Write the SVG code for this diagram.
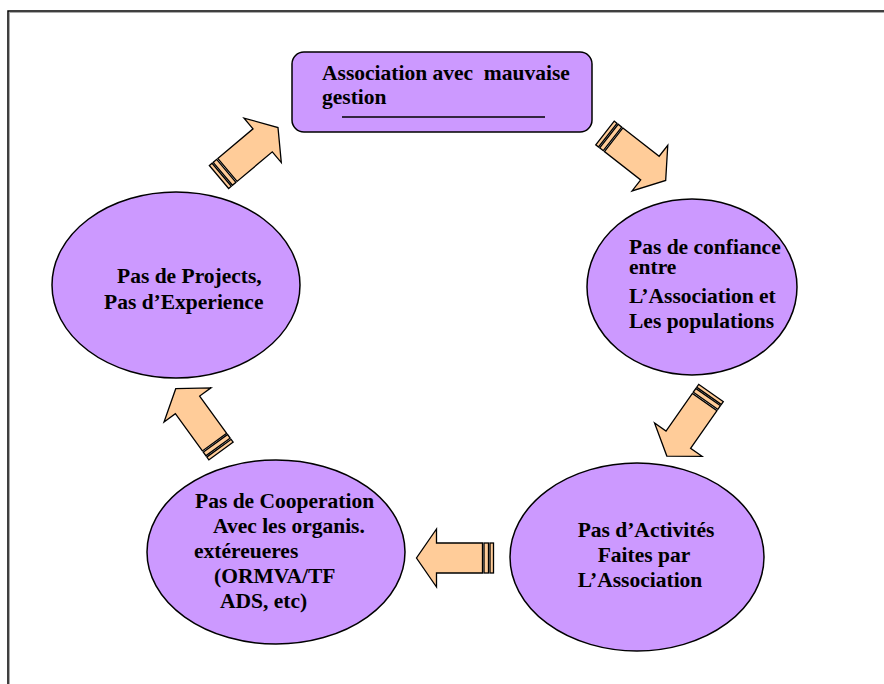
<svg xmlns="http://www.w3.org/2000/svg" width="884" height="684" viewBox="0 0 884 684">
<style>
.node{fill:#CC99FF;stroke:#000;stroke-width:1.5}
.t{font-family:"Liberation Serif","Times New Roman",serif;font-weight:bold;font-size:21.5px;fill:#000;white-space:pre}
.arr{fill:#FFCC99;stroke:#000;stroke-width:1.3;stroke-linejoin:miter}
</style>
<defs>
<g id="arrow">
<rect class="arr" x="0" y="-15" width="3.5" height="30"/>
<rect class="arr" x="5" y="-15" width="4.5" height="30"/>
<polygon class="arr" points="11,-15 57,-15 57,-29 77,0 57,29 57,15 11,15"/>
</g>
</defs>
<rect x="0" y="0" width="884" height="684" fill="#fff"/>
<rect x="8" y="11" width="900" height="700" fill="none" stroke="#000" stroke-width="1.5"/>
<rect x="9.5" y="12.5" width="900" height="700" fill="none" stroke="#aaa" stroke-width="1"/>

<g id="n1">
<rect class="node" x="292" y="52" width="300" height="80" rx="12"/>
<text class="t" x="322" y="80">Association avec  mauvaise</text>
<text class="t" x="322" y="104">gestion</text>
<line x1="342" y1="117" x2="545" y2="117" stroke="#000" stroke-width="1.5"/>
</g>
<g id="n2">
<ellipse class="node" cx="692" cy="287" rx="105" ry="88"/>
<text class="t" x="629" y="254">Pas de confiance</text>
<text class="t" x="629" y="274">entre</text>
<text class="t" x="629" y="303">L’Association et</text>
<text class="t" x="629" y="328">Les populations</text>
</g>
<g id="n3">
<ellipse class="node" cx="637" cy="557" rx="127" ry="94"/>
<text class="t" x="646" y="537" text-anchor="middle">Pas d’Activités</text>
<text class="t" x="644" y="562" text-anchor="middle">Faites par</text>
<text class="t" x="640" y="587" text-anchor="middle">L’Association</text>
</g>
<g id="n4">
<ellipse class="node" cx="276" cy="552" rx="129" ry="92"/>
<text class="t" x="195" y="508">Pas de Cooperation</text>
<text class="t" x="213" y="533">Avec les organis.</text>
<text class="t" x="194" y="558">extéreueres</text>
<text class="t" x="214" y="583">(ORMVA/TF</text>
<text class="t" x="220" y="608">ADS, etc)</text>
</g>
<g id="n5">
<ellipse class="node" cx="176" cy="285" rx="124" ry="93"/>
<text class="t" x="117" y="283">Pas de Projects,</text>
<text class="t" x="104" y="309">Pas d’Experience</text>
</g>

<g id="connectors">
<use href="#arrow" transform="translate(219,177) rotate(-40)"/>
<use href="#arrow" transform="translate(605,133) rotate(38)"/>
<use href="#arrow" transform="translate(711,393) rotate(125)"/>
<use href="#arrow" transform="translate(493.5,558) rotate(180)"/>
<use href="#arrow" transform="translate(221,451) rotate(-126)"/>
</g>
</svg>
